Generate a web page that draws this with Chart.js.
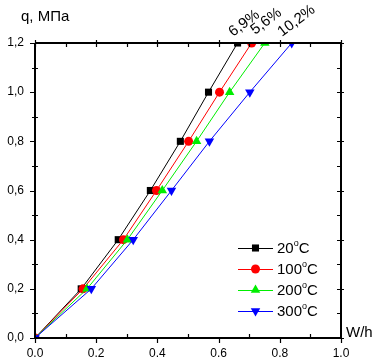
<!DOCTYPE html>
<html>
<head>
<meta charset="utf-8">
<script src="https://cdn.jsdelivr.net/npm/chart.js@4/dist/chart.umd.min.js"></script>
<style>
html,body{margin:0;padding:0;background:#fff;}
#wrap{width:374px;height:359px;}
</style>
</head>
<body>
<div id="wrap"><canvas id="c" width="374" height="359"></canvas></div>
<script>
// ---- data ----
const loadLevels = [0, 0.2, 0.4, 0.6, 0.8, 1.0, 1.2];          // q, MPa
const w20  = [0, 0.151, 0.272, 0.377, 0.475, 0.567, 0.662];     // W/h at 20°C
const w100 = [0, 0.157, 0.289, 0.397, 0.502, 0.603, 0.708];     // W/h at 100°C
const w200 = [0, 0.170, 0.302, 0.416, 0.528, 0.636, 0.751];     // W/h at 200°C
const w300 = [0, 0.184, 0.321, 0.446, 0.570, 0.702, 0.839];     // W/h at 300°C
const seriesNames = ["20", "100", "200", "300"];
const endLabels = ["6,9%", "5,6%", "10,2%"];
const xTicks = [0, 0.2, 0.4, 0.6, 0.8, 1.0];
const yTicks = [0, 0.2, 0.4, 0.6, 0.8, 1.0, 1.2];

const FONT = "'Liberation Sans', Arial, sans-serif";
const toPts = (xs) => xs.map((x, i) => ({x: x, y: loadLevels[i]}));

const styles = [
  {color: '#000000', pointStyle: 'rect', radius: 5, rotation: 0},
  {color: '#ff0000', pointStyle: 'circle', radius: 4.5, rotation: 0},
  {color: '#00ee00', pointStyle: 'triangle', radius: 5.5, rotation: 0},
  {color: '#0000ff', pointStyle: 'triangle', radius: 5.5, rotation: 180}
];
const seriesData = [w20, w100, w200, w300];

const datasets = seriesData.map((d, i) => ({
  label: seriesNames[i],
  data: toPts(d),
  showLine: true,
  borderColor: styles[i].color,
  backgroundColor: styles[i].color,
  borderWidth: 1,
  pointStyle: styles[i].pointStyle,
  pointRadius: styles[i].radius,
  pointRotation: styles[i].rotation,
  pointBorderWidth: 0,
  pointBackgroundColor: styles[i].color,
  pointBorderColor: styles[i].color,
  order: 4 - i
}));

const framePlugin = {
  id: 'frame',
  afterDatasetsDraw(chart) {
    const ctx = chart.ctx, a = chart.chartArea;
    const xs = chart.scales.x, ys = chart.scales.y;
    ctx.save();
    ctx.strokeStyle = '#000';
    ctx.lineWidth = 2;
    ctx.beginPath();
    ctx.moveTo(a.left, a.top); ctx.lineTo(a.right, a.top);
    ctx.moveTo(a.left, a.bottom); ctx.lineTo(a.right, a.bottom);
    ctx.moveTo(a.left, a.top); ctx.lineTo(a.left, a.bottom);
    ctx.moveTo(a.right, a.top); ctx.lineTo(a.right, a.bottom);
    ctx.stroke();
    ctx.lineWidth = 1.2;
    ctx.beginPath();
    for (let k = 0; k <= 10; k++) {
      const v = k / 10;
      const px = Math.round(xs.getPixelForValue(v)) + 0.5;
      const major = k % 2 === 0;
      if (major) {
        ctx.moveTo(px, a.bottom); ctx.lineTo(px, a.bottom + 5);
        ctx.moveTo(px, a.top - 3); ctx.lineTo(px, a.top + 4);
      } else {
        ctx.moveTo(px, a.bottom); ctx.lineTo(px, a.bottom - 4);
        ctx.moveTo(px, a.top); ctx.lineTo(px, a.top + 4);
      }
    }
    for (let k = 0; k <= 12; k++) {
      const v = k / 10;
      const py = Math.round(ys.getPixelForValue(v)) + 0.5;
      const major = k % 2 === 0;
      if (major) {
        ctx.moveTo(a.left - 5, py); ctx.lineTo(a.left, py);
        ctx.moveTo(a.right - 4, py); ctx.lineTo(a.right + 3, py);
      } else {
        ctx.moveTo(a.left - 3, py); ctx.lineTo(a.left + 3, py);
        ctx.moveTo(a.right - 4, py); ctx.lineTo(a.right, py);
      }
    }
    ctx.stroke();

    // axis titles
    ctx.fillStyle = '#000';
    ctx.font = '15px ' + FONT;
    ctx.textAlign = 'left';
    ctx.textBaseline = 'alphabetic';
    ctx.fillText('q, МПа', 21, 21);
    ctx.fillText('W/h', a.right + 5, a.bottom - 1);

    // rotated end labels anchored at the last points of their series
    const labelSeries = [0, 1, 3];
    const offs = [[-4.6, -6], [3.4, -8], [-9.7, -6]];
    ctx.font = '15px ' + FONT;
    labelSeries.forEach((si, j) => {
      const meta = chart.getDatasetMeta(si);
      const pt = meta.data[meta.data.length - 1];
      ctx.save();
      ctx.translate(pt.x + offs[j][0], pt.y + offs[j][1]);
      ctx.rotate(-37 * Math.PI / 180);
      ctx.fillText(endLabels[j], 0, 0);
      ctx.restore();
    });

    // legend
    const lx = 238, ly0 = 248, dy = 21;
    chart.data.datasets.forEach((ds, i) => {
      const y = ly0 + i * dy;
      ctx.strokeStyle = ds.borderColor;
      ctx.lineWidth = 1;
      ctx.beginPath();
      ctx.moveTo(lx, y + 0.5); ctx.lineTo(lx + 35, y + 0.5);
      ctx.stroke();
      ctx.fillStyle = ds.pointBackgroundColor;
      Chart.helpers.drawPoint(ctx, {
        pointStyle: ds.pointStyle, rotation: ds.pointRotation,
        radius: ds.pointRadius, borderWidth: 0
      }, lx + 17.5, y);
      ctx.fillStyle = '#000';
      ctx.textBaseline = 'middle';
      ctx.font = '15px ' + FONT;
      let tx = lx + 39;
      ctx.fillText(ds.label, tx, y + 1);
      tx += ctx.measureText(ds.label).width;
      ctx.font = '9px ' + FONT;
      ctx.fillText('o', tx, y - 4);
      tx += ctx.measureText('o').width;
      ctx.font = '15px ' + FONT;
      ctx.fillText('C', tx, y + 1);
    });
    ctx.restore();
  }
};

new Chart(document.getElementById('c'), {
  type: 'scatter',
  data: {datasets},
  options: {
    responsive: false,
    animation: false,
    devicePixelRatio: 1,
    layout: {padding: {top: 43, right: 33, left: 0, bottom: 0}},
    plugins: {legend: {display: false}, tooltip: {enabled: false}},
    scales: {
      x: {
        type: 'linear', min: 0, max: 1.0,
        afterFit(s) { s.height = 21; },
        afterBuildTicks(s) { s.ticks = xTicks.map(v => ({value: v})); },
        grid: {display: false, drawTicks: false},
        border: {display: false},
        ticks: {
          padding: 8, color: '#000',
          font: {family: FONT, size: 12},
          callback: v => Number(v).toFixed(1)
        }
      },
      y: {
        type: 'linear', min: 0, max: 1.2,
        afterFit(s) { s.width = 35; },
        afterBuildTicks(s) { s.ticks = yTicks.map(v => ({value: v})); },
        grid: {display: false, drawTicks: false},
        border: {display: false},
        ticks: {
          padding: 11, color: '#000',
          font: {family: FONT, size: 12},
          callback: v => Number(v).toFixed(1).replace('.', ',')
        }
      }
    }
  },
  plugins: [framePlugin]
});
</script>
</body>
</html>
